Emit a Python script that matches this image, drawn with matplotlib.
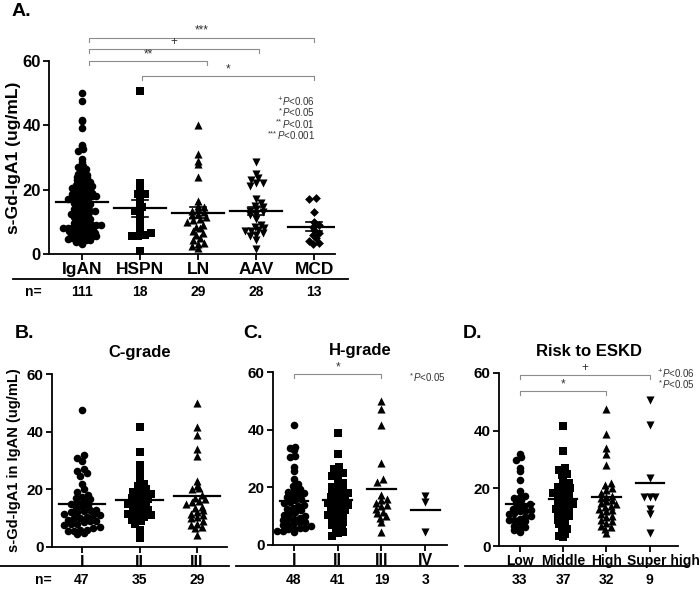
import numpy as np
import matplotlib
matplotlib.use('Agg')
import matplotlib.pyplot as plt
from matplotlib.lines import Line2D
from matplotlib.transforms import ScaledTranslation

plt.rcParams['font.family'] = ['Liberation Sans', 'DejaVu Sans']
plt.rcParams['mathtext.fontset'] = 'custom'
plt.rcParams['mathtext.rm'] = 'Liberation Sans'
plt.rcParams['mathtext.it'] = 'Liberation Sans:italic'

# ---- panel A data ----
groups_a = ['IgAN', 'HSPN', 'LN', 'AAV', 'MCD']
n_a = ['111', '18', '29', '28', '13']
igan = [50.0, 47.5, 41.8, 41.5, 39.2, 34.0, 33.5, 32.5, 32.0, 29.5, 28.5, 27.5, 27.0, 26.5, 26.0, 25.5,
        25.0, 24.5, 24.0, 24.0, 23.5, 23.0, 23.0, 22.5, 22.0, 22.0, 21.5, 21.0, 21.0, 21.0, 20.5, 20.5,
        20.0, 20.0, 19.5, 19.5, 19.0, 19.0, 19.0, 18.5, 18.5, 18.0, 18.0, 18.0, 17.5, 17.5, 17.0, 17.0,
        16.5, 16.5, 16.0, 16.0, 15.5, 15.5, 15.0, 15.0, 14.5, 14.5, 14.0, 14.0, 13.5, 13.5, 13.0, 13.0,
        12.5, 12.5, 12.0, 12.0, 11.5, 11.5, 11.0, 11.0, 10.5, 10.5, 10.0, 10.0, 9.5, 9.5, 9.0, 9.0,
        9.0, 8.5, 8.5, 8.5, 8.0, 8.0, 8.0, 7.5, 7.5, 7.5, 7.0, 7.0, 7.0, 6.5, 6.5, 6.5, 6.0, 6.0,
        6.0, 5.5, 5.5, 5.5, 5.0, 5.0, 5.0, 4.8, 4.5, 4.2, 4.0, 3.6, 3.2]
hspn = [50.8, 22.0, 20.5, 18.5, 18.5, 17.0, 16.0, 14.5, 13.5, 12.0, 11.0, 9.5, 7.5, 6.5, 5.5, 5.5, 5.8, 0.8]
ln = [40.0, 31.0, 29.0, 28.0, 24.0, 16.5, 15.0, 14.5, 14.0, 13.5, 13.0, 12.5, 12.0, 11.5, 11.0,
      10.5, 10.0, 9.0, 8.5, 8.0, 7.0, 6.5, 6.0, 5.0, 4.5, 3.5, 3.0, 2.5, 2.0]
aav = [28.5, 25.0, 23.5, 23.0, 22.0, 22.0, 21.0, 17.0, 16.0, 15.0, 14.5, 14.0, 13.5, 13.0, 12.5,
       12.0, 11.0, 9.0, 8.5, 8.0, 7.5, 7.0, 7.0, 6.5, 6.0, 5.5, 4.5, 1.5]
mcd = [17.5, 17.0, 13.0, 10.0, 9.0, 8.5, 7.5, 6.5, 6.0, 5.0, 4.0, 3.5, 3.0]

# ---- panel B data (C-grade) ----
groups_b = ['I', 'II', 'III']
n_b = ['47', '35', '29']
c_1 = [47.5, 32.0, 31.0, 30.0, 27.0, 26.5, 25.5, 24.5, 22.0, 20.0, 19.0, 18.0, 17.5, 17.0, 16.5,
       16.0, 15.5, 15.0, 14.5, 14.0, 13.5, 13.0, 13.0, 12.5, 12.0, 12.0, 11.5, 11.0, 11.0, 10.5,
       10.0, 10.0, 9.5, 9.0, 9.0, 8.5, 8.0, 8.0, 7.5, 7.0, 6.5, 6.0, 6.0, 5.5, 5.5, 5.0, 4.5]
c_2 = [41.5, 33.0, 28.5, 27.0, 24.5, 23.5, 22.0, 21.0, 20.0, 19.5, 19.0, 18.5, 18.0, 17.5, 17.0,
       16.5, 16.0, 15.5, 15.0, 14.5, 14.0, 13.5, 13.0, 12.5, 12.0, 11.5, 11.0, 10.5, 10.0, 9.5,
       9.0, 8.0, 6.0, 4.5, 3.0]
c_3 = [50.0, 41.5, 39.0, 34.0, 31.5, 23.0, 21.0, 20.5, 20.0, 18.0, 17.0, 16.5, 16.0, 15.5, 15.0,
       14.0, 13.5, 13.0, 12.0, 11.5, 11.0, 10.5, 10.0, 9.0, 8.0, 7.5, 7.0, 6.5, 4.0]

# ---- panel C data (H-grade) ----
groups_c = ['I', 'II', 'III', 'IV']
n_c = ['48', '41', '19', '3']
h_1 = [41.5, 34.0, 33.5, 33.0, 31.0, 30.5, 27.0, 25.5, 23.0, 21.0, 20.5, 19.5, 19.0, 18.5, 18.0,
       17.5, 17.0, 16.5, 16.0, 15.5, 15.0, 14.5, 14.0, 13.5, 13.0, 12.5, 12.0, 11.5, 11.0, 10.5,
       10.0, 9.5, 9.0, 9.0, 8.5, 8.0, 8.0, 7.5, 7.0, 7.0, 6.5, 6.0, 6.0, 5.5, 5.5, 5.0, 5.0, 4.5]
h_2 = [39.0, 31.5, 27.0, 26.5, 25.0, 24.5, 24.0, 22.5, 21.5, 20.5, 20.0, 19.5, 19.0, 18.5, 18.0,
       17.5, 17.0, 16.5, 16.0, 15.5, 15.0, 14.5, 14.0, 13.5, 13.0, 12.5, 12.0, 11.5, 11.0, 10.5,
       10.0, 9.5, 9.0, 8.0, 7.5, 7.0, 6.0, 5.5, 4.5, 4.0, 3.0]
h_3 = [50.0, 47.0, 41.5, 28.5, 23.0, 22.0, 17.5, 16.0, 15.5, 14.5, 14.0, 13.5, 12.5, 11.5, 11.0,
       10.0, 9.5, 8.0, 4.5]
h_4 = [17.0, 15.0, 4.5]

# ---- panel D data (risk to ESKD) ----
groups_d = ['Low', 'Middle', 'High', 'Super high']
n_d = ['33', '37', '32', '9']
r_low = [32.0, 31.0, 30.0, 27.0, 26.0, 23.0, 19.0, 17.5, 17.0, 16.5, 16.0, 15.0, 14.5, 14.0, 13.5,
         13.0, 12.5, 12.0, 12.0, 11.5, 11.0, 10.5, 10.0, 9.5, 9.0, 9.0, 8.5, 8.0, 7.0, 6.5, 6.0, 5.5, 5.0]
r_mid = [41.5, 33.0, 27.0, 26.5, 25.0, 24.5, 24.0, 22.0, 21.0, 20.5, 20.0, 19.5, 19.0, 18.5, 18.0,
         17.0, 16.5, 16.0, 15.5, 15.0, 14.5, 14.0, 13.5, 13.0, 12.5, 12.0, 11.0, 10.5, 10.0, 9.0,
         8.5, 7.5, 6.0, 5.5, 4.0, 3.5, 3.0]
r_high = [47.5, 39.0, 34.0, 32.0, 28.0, 22.0, 21.0, 20.0, 19.5, 18.5, 17.5, 17.0, 16.5, 16.0, 15.5,
          15.0, 14.5, 14.0, 13.5, 13.0, 12.5, 12.0, 11.0, 10.5, 10.0, 9.0, 8.5, 8.0, 7.0, 6.5, 6.0, 4.5]
r_sup = [50.5, 42.0, 23.5, 17.0, 17.0, 17.0, 13.0, 11.0, 4.5]

W, H = 700, 592
fig = plt.figure(figsize=(7, 5.92), dpi=100)
GREY = '#8c8c8c'
SIG = '#333333'


def px_axes(x0, x1, y_top, y_bot):
    return fig.add_axes([x0 / W, 1 - y_bot / H, (x1 - x0) / W, (y_bot - y_top) / H])


def rows(yp, hb, w):
    # prism-like column scatter: points in the same band of height hb sit side by side
    band = np.floor(yp / hb).astype(int)
    offs = np.zeros(len(yp))
    for b in np.unique(band):
        idx = np.where(band == b)[0]
        idx = idx[np.argsort(yp[idx])]
        k = len(idx)
        shift = 0.0 if k % 2 else (0.25 * w if b % 2 else -0.25 * w)
        offs[idx] = (np.arange(k) - (k - 1) / 2) * w + (shift if k > 1 else 0.0)
    return offs


def column(ax, x0, vals, marker, s, hb, w, half, sem=False):
    vals = np.asarray(vals, float)
    pts = ax.transData.transform(np.column_stack([np.full(len(vals), x0), vals]))
    offs = rows(pts[:, 1], hb, w)
    xs = ax.transData.inverted().transform(np.column_stack([pts[:, 0] + offs, pts[:, 1]]))[:, 0]
    ax.scatter(xs, vals, marker=marker, s=s, c='k', linewidths=0, zorder=3, clip_on=False)
    m = vals.mean()
    ax.plot([x0 - half, x0 + half], [m, m], color='k', lw=1.6, zorder=4)
    if sem:
        se = vals.std(ddof=1) / np.sqrt(len(vals))
        ax.plot([x0, x0], [m - se, m + se], color='k', lw=1.2, zorder=4)
        for yy in (m - se, m + se):
            ax.plot([x0 - half * 0.3, x0 + half * 0.3], [yy, yy], color='k', lw=1.2, zorder=4)


def style(ax, xlim, labels, fs, yfs):
    ax.set_xlim(*xlim)
    ax.set_ylim(0, 60)
    ax.set_yticks([0, 20, 40, 60])
    ax.set_xticks(range(len(labels)))
    ax.set_xticklabels(labels, fontsize=fs, fontweight='bold')
    for t in ax.get_yticklabels():
        t.set_fontweight('bold')
        t.set_fontsize(yfs)
    ax.spines['top'].set_visible(False)
    ax.spines['right'].set_visible(False)
    for sp in ('left', 'bottom'):
        ax.spines[sp].set_linewidth(1.3)
    ax.tick_params(width=1.3, length=4, pad=2)
    ax.tick_params(axis='x', pad=2)


def bracket(ax, x1, x2, y, label, tick=1.3):
    ax.plot([x1, x1, x2, x2], [y - tick, y, y, y - tick], color=GREY, lw=0.8, clip_on=False)
    ax.text((x1 + x2) / 2, y + 0.3, label, ha='center', va='bottom', fontsize=8.5, color=SIG)


def n_row(ax, ns, y_line, y_text, xl0, xl1, nx=None):
    fig.add_artist(Line2D([xl0 / W, xl1 / W], [1 - y_line / H] * 2, color='k', lw=1.3))
    tr = ax.get_xaxis_transform()
    pos = ax.get_position()
    ya = ((1 - y_text / H) - pos.y0) / pos.height
    for i, n in enumerate(ns):
        ax.text(i, ya, n, transform=tr, ha='center', va='center', fontsize=10, fontweight='bold')
    if nx is not None:
        fig.text(nx / W, 1 - y_text / H, 'n=', ha='center', va='center', fontsize=10, fontweight='bold')


def sig_note(x, y, sup, val, ha='right'):
    # "<sup>P<val" with italic P; superscript drawn as its own small text
    t = fig.text(x / W, 1 - y / H, r'$\mathit{P}$<' + val, ha=ha, va='center', fontsize=7, color=SIG)
    fig.canvas.draw()
    bb = t.get_window_extent()
    fig.text(bb.x0 / fig.bbox.width, (bb.y1 - 1) / fig.bbox.height, sup, ha='right', va='top',
             fontsize=5.5, color=SIG)


# ---------------- A ----------------
axA = px_axes(49, 335, 61, 254)
style(axA, (-0.57, 4.36), groups_a, 12.5, 12)
for i, (vals, mk) in enumerate(zip([igan, hspn, ln, aav, mcd], ['o', 's', '^', 'v', 'D'])):
    sz = {'o': 30, 's': 26, '^': 34, 'v': 34, 'D': 20}[mk]
    if len(vals) > 60:
        column(axA, i, vals, mk, sz, 3.6, 4.8, 0.45, sem=True)
    else:
        column(axA, i, vals, mk, sz, 5.0, 6.4, 0.45, sem=True)
axA.set_ylabel('s-Gd-IgA1 (ug/mL)', fontsize=12.5, fontweight='bold', labelpad=1)
bracket(axA, 0.12, 4.0, 67.2, '***')
bracket(axA, 0.12, 3.05, 63.7, '+')
bracket(axA, 0.12, 2.15, 60.0, '**')
bracket(axA, 1.03, 4.0, 55.3, '*')
n_row(axA, n_a, 279, 292, 13, 348, nx=33)
fig.text(12 / W, 1 - 12 / H, 'A.', ha='left', va='center', fontsize=14, fontweight='bold')

# ---------------- B ----------------
axB = px_axes(52, 227, 374, 547)
style(axB, (-0.52, 2.52), groups_b, 11.5, 11)
for i, (vals, mk) in enumerate(zip([c_1, c_2, c_3], ['o', 's', '^'])):
    sz = {'o': 30, 's': 26, '^': 34}[mk]
    column(axB, i, vals, mk, sz, 5.5, 6.4, 0.4)
axB.set_ylabel('s-Gd-IgA1 in IgAN (ug/mL)', fontsize=10.5, fontweight='bold', labelpad=4)
axB.set_title('C-grade', fontsize=12, fontweight='bold', pad=12)
n_row(axB, n_b, 566, 580, 0, 229, nx=43)
fig.text(15 / W, 1 - 334 / H, 'B.', ha='left', va='center', fontsize=14, fontweight='bold')

# ---------------- C ----------------
axC = px_axes(273, 447, 372, 545)
style(axC, (-0.48, 3.5), groups_c, 11.5, 11)
for i, (vals, mk) in enumerate(zip([h_1, h_2, h_3, h_4], ['o', 's', '^', 'v'])):
    sz = {'o': 30, 's': 26, '^': 34, 'v': 34}[mk]
    column(axC, i, vals, mk, sz, 5.5, 5.6, 0.33)
axC.set_title('H-grade', fontsize=12, fontweight='bold', pad=12)
bracket(axC, 0.0, 2.0, 59.3, '*')
n_row(axC, n_c, 566, 580, 236, 458)
fig.text(243 / W, 1 - 334 / H, 'C.', ha='left', va='center', fontsize=14, fontweight='bold')

# ---------------- D ----------------
axD = px_axes(499, 678, 373, 546)
style(axD, (-0.48, 3.65), groups_d, 10, 11)
lbl = axD.get_xticklabels()[-1]
lbl.set_transform(lbl.get_transform() + ScaledTranslation(0.14, 0, fig.dpi_scale_trans))
for i, (vals, mk) in enumerate(zip([r_low, r_mid, r_high, r_sup], ['o', 's', '^', 'v'])):
    sz = {'o': 30, 's': 26, '^': 34, 'v': 34}[mk]
    column(axD, i, vals, mk, sz, 5.5, 5.6, 0.33)
axD.set_title('Risk to ESKD', fontsize=12, fontweight='bold', pad=12)
bracket(axD, 0.0, 3.0, 59.3, '+')
bracket(axD, 0.0, 2.0, 53.7, '*')
n_row(axD, n_d, 566, 580, 465, 688)
fig.text(463 / W, 1 - 334 / H, 'D.', ha='left', va='center', fontsize=14, fontweight='bold')

# significance notes
for k, (sup, val) in enumerate([('+', '0.06'), ('*', '0.05'), ('**', '0.01'), ('***', '0.001')]):
    sig_note(315, 101 + 11.3 * k, sup, val)
sig_note(413, 377, '*', '0.05', ha='left')
sig_note(662, 373, '+', '0.06', ha='left')
sig_note(662, 384, '*', '0.05', ha='left')

fig.savefig('out.png', dpi=100)
